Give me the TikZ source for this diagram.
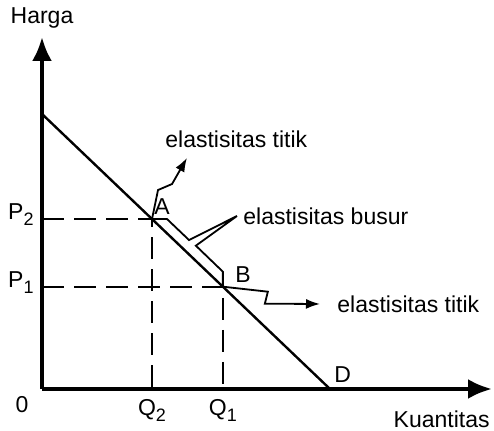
\documentclass[tikz,border=0pt]{standalone}
\usepackage{fontspec}
\setmainfont{Liberation Sans}
\usetikzlibrary{calc, positioning, arrows.meta}

\newcommand{\lowsub}[1]{\lower3pt\hbox{\fontsize{9}{9}\selectfont #1}}

\begin{document}
\begin{tikzpicture}[
    x=0.5pt, y=-0.5pt,
    font=\fontsize{11.5}{13}\selectfont,
    axis/.style={line width=2pt, -{Latex[length=12pt, width=10pt]}},
    demand/.style={line width=1.2pt},
    guide/.style={line width=1pt, dash pattern=on 11pt off 5pt},
    leader/.style={line width=0.9pt, line join=miter},
    pointer/.style={line width=0.9pt, -{Latex[length=7pt, width=5pt]}},
    lbl/.style={inner sep=1pt}
  ]
  \useasboundingbox (0,0) rectangle (494,431);

  % axes and demand curve
  \coordinate (O) at (42,389);
  \coordinate (ytop) at (42,37);
  \coordinate (xend) at (492,389);
  \coordinate (start) at (42,114);
  \coordinate (D) at (330,389);
  \coordinate (A) at ($(start)!0.382!(D)$);
  \coordinate (B) at ($(start)!0.628!(D)$);
  \coordinate (P2) at (O |- A);
  \coordinate (P1) at (O |- B);
  \coordinate (Q2) at (A |- O);
  \coordinate (Q1) at (B |- O);

  \draw[guide] (P2) -- (A) -- (Q2);
  \draw[guide] (P1) -- (B) -- (Q1);
  \draw[demand] (start) -- (D);
  \draw[axis] (O) -- (ytop);
  \draw[axis] (O) -- (xend);

  \node[lbl, above=3pt of ytop] (harga) {Harga};
  \node[lbl, anchor=north east] (kuantitas) at (492,408) {Kuantitas};
  \node[lbl] (nol) at (22,405) {0};
  \node[lbl, left=3pt of P2, yshift=2pt] (lP2) {P\lowsub{2}};
  \node[lbl, left=3pt of P1, yshift=2pt] (lP1) {P\lowsub{1}};
  \node[lbl, below=4pt of Q2] (lQ2) {Q\lowsub{2}};
  \node[lbl, below=4pt of Q1] (lQ1) {Q\lowsub{1}};

  \node[lbl, above right=1pt and 0pt of A] (lA) {A};
  \node[lbl, above right=1pt and 5pt of B] (lB) {B};
  \node[lbl, above right=2pt and 1pt of D] (lD) {D};

  % elasticity labels
  \node[lbl, anchor=west] (titikA) at (163,139) {elastisitas titik};
  \node[lbl, anchor=west] (busur) at (241,216) {elastisitas busur};
  \node[lbl, anchor=west] (titikB) at (335,304) {elastisitas titik};

  \draw[pointer] (A) -- ++(6,-29) -- ++(14,-6) -- ($(titikA.south west)+(24,8)$);
  \draw[leader] (A) -- ++(15,0) -- ++(22,21) -- ([xshift=-2pt]busur.west)
    -- ($(B)+(-27,-41)$) -- ($(B)+(0,-15)$) -- (B);
  \draw[pointer] (B) -- ++(45,5) -- ++(-3,12) -- ($(titikB.west)+(-15,0)$);

\end{tikzpicture}
\end{document}
